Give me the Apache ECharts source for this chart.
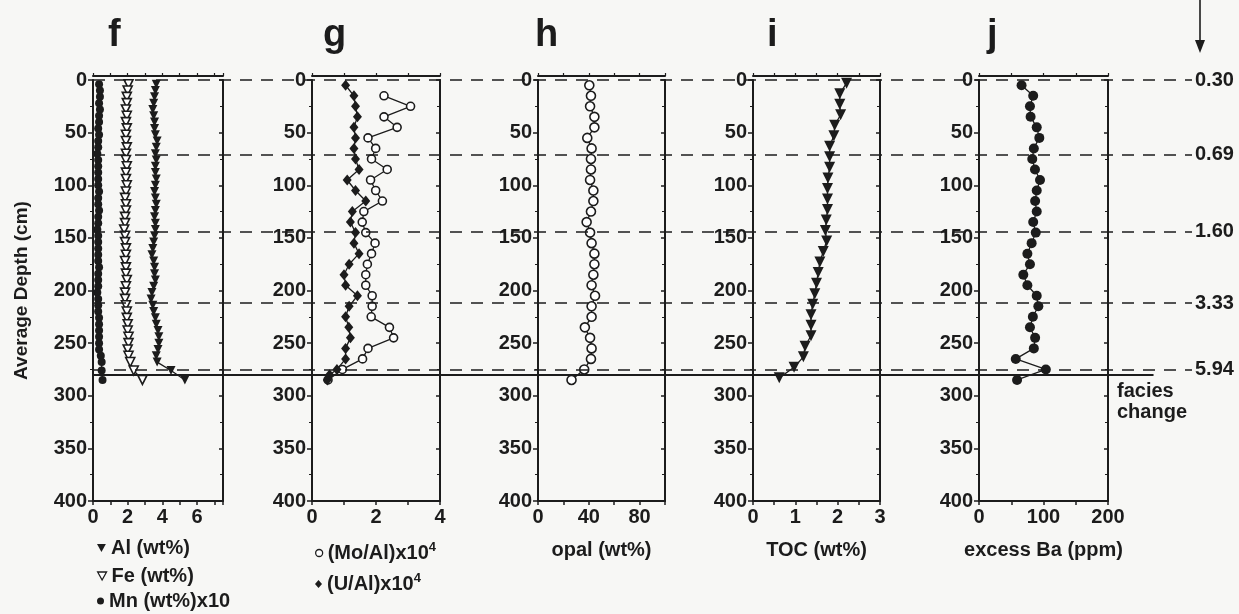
<!DOCTYPE html>
<html>
<head>
<meta charset="utf-8">
<script src="https://cdn.jsdelivr.net/npm/echarts@6/dist/echarts.min.js"></script>
<style>
  html, body { margin: 0; padding: 0; background: #f7f7f5; }
  #chart { width: 1239px; height: 614px; }
</style>
</head>
<body>
<div id="chart"></div>
<script>
// panel f: Al, Fe, Mn
const depthF = [4, 10, 16, 22, 28, 34, 40, 46, 52, 58, 64, 70, 76, 82, 88, 94, 100, 106, 112, 118, 124, 130,
  136, 142, 148, 154, 160, 166, 172, 178, 184, 190, 196, 202, 208, 214, 220, 226, 232, 238, 244, 250, 256, 262, 268, 276, 285];
const alF = [3.65, 3.6, 3.55, 3.5, 3.45, 3.5, 3.55, 3.55, 3.6, 3.7, 3.65, 3.6, 3.65, 3.6, 3.6, 3.65, 3.6, 3.55, 3.6, 3.65, 3.6, 3.55,
  3.6, 3.6, 3.55, 3.5, 3.45, 3.4, 3.5, 3.55, 3.55, 3.6, 3.5, 3.4, 3.35, 3.45, 3.5, 3.6, 3.65, 3.75, 3.8, 3.8, 3.75, 3.65, 3.7, 4.5, 5.3];
const feF = [2.05, 2.0, 1.95, 1.95, 1.9, 1.95, 1.9, 1.95, 1.9, 1.9, 1.95, 1.9, 1.9, 1.95, 1.9, 1.9, 1.95, 1.9, 1.85, 1.9, 1.9, 1.85,
  1.85, 1.8, 1.85, 1.85, 1.9, 1.9, 1.85, 1.9, 1.9, 1.95, 1.9, 1.85, 1.85, 1.9, 1.95, 1.95, 2.0, 2.0, 2.05, 2.05, 2.0, 2.05, 2.15, 2.35, 2.85];
const mnF = [0.35, 0.4, 0.4, 0.35, 0.4, 0.35, 0.35, 0.3, 0.35, 0.3, 0.3, 0.25, 0.3, 0.3, 0.3, 0.3, 0.3, 0.35, 0.3, 0.3, 0.35, 0.3,
  0.3, 0.25, 0.3, 0.3, 0.3, 0.3, 0.3, 0.35, 0.3, 0.3, 0.3, 0.25, 0.3, 0.3, 0.3, 0.35, 0.35, 0.35, 0.35, 0.35, 0.35, 0.45, 0.5, 0.5, 0.55];

// panel g: Mo/Al, U/Al (x10^4)
const depthMo = [15, 25, 35, 45, 55, 65, 75, 85, 95, 105, 115, 125, 135, 145, 155, 165, 175, 185, 195, 205, 215, 225, 235, 245, 255, 265, 275, 285];
const moAl = [2.25, 3.08, 2.25, 2.66, 1.75, 1.99, 1.86, 2.35, 1.83, 1.99, 2.2, 1.62, 1.57, 1.68, 1.97, 1.86, 1.73, 1.68, 1.68, 1.88,
  1.88, 1.85, 2.42, 2.55, 1.75, 1.58, 0.95, 0.5];
const depthU = [5, 15, 25, 35, 45, 55, 65, 75, 85, 95, 105, 115, 125, 135, 145, 155, 165, 175, 185, 195, 205, 215, 225, 235, 245, 255, 265, 275, 280, 285];
const uAl = [1.05, 1.31, 1.36, 1.42, 1.31, 1.36, 1.31, 1.36, 1.47, 1.1, 1.36, 1.68, 1.26, 1.2, 1.36, 1.31, 1.47, 1.16, 1.0, 1.05,
  1.42, 1.16, 1.05, 1.15, 1.2, 1.05, 1.05, 0.78, 0.55, 0.48];

// panel h: opal
const depthOpal = [5, 15, 25, 35, 45, 55, 65, 75, 85, 95, 105, 115, 125, 135, 145, 155, 165, 175, 185, 195, 205, 215, 225, 235, 245, 255, 265, 275, 285];
const opal = [40.4, 41.7, 41, 44.4, 44.4, 38.8, 42.2, 41.7, 41.7, 41, 43.6, 43.6, 41.7, 38.3, 41, 42.2, 44.4, 44.4, 43.6, 42.2,
  44.9, 42.2, 42.2, 36.9, 41, 42.2, 41.7, 36.4, 26.4];

// panel i: TOC
const depthToc = [3, 13, 23, 33, 43, 53, 63, 73, 83, 93, 103, 113, 123, 133, 143, 153, 163, 173, 183, 193, 203, 213, 223, 233, 243, 253, 263, 273, 283];
const toc = [2.21, 2.05, 2.05, 2.07, 1.93, 1.91, 1.81, 1.81, 1.81, 1.77, 1.76, 1.76, 1.76, 1.73, 1.71, 1.74, 1.66, 1.58, 1.54, 1.5,
  1.46, 1.41, 1.37, 1.37, 1.37, 1.23, 1.19, 0.97, 0.62];

// panel j: excess Ba
const depthBa = [5, 15, 25, 35, 45, 55, 65, 75, 85, 95, 105, 115, 125, 135, 145, 155, 165, 175, 185, 195, 205, 215, 225, 235, 245, 255, 265, 275, 285];
const exBa = [66, 84, 79, 80, 89.5, 93.5, 85, 82.6, 86.8, 94.6, 89.5, 87, 89.5, 84, 88, 81.6, 75, 79, 68.7, 75,
  89.5, 92, 83.5, 79, 87, 85, 57, 103.6, 59];

// horizontal reference lines (depth, cm) and their labels
const markDepths = [0, 71, 144, 212, 275];
const markLabels = ['0.30', '0.69', '1.60', '3.33', '5.94'];
const faciesDepth = 280;
const depthTicks = [0, 400, 50];

const ink = '#1c1c1c';
const font = "'Liberation Sans', Arial, Helvetica, sans-serif";

const panels = [
  { left: 93, width: 130, max: 7.5, step: 1, labelStep: 2, title: 'f', titleLeft: 103 },
  { left: 312, width: 128, max: 4, step: 1, labelStep: 2, title: 'g', titleLeft: 318 },
  { left: 538, width: 127, max: 100, step: 20, labelStep: 40, title: 'h', titleLeft: 530, name: 'opal (wt%)' },
  { left: 753, width: 127, max: 3, step: 0.5, labelStep: 1, title: 'i', titleLeft: 762, name: 'TOC (wt%)' },
  { left: 979, width: 129, max: 200, step: 50, labelStep: 100, title: 'j', titleLeft: 982, name: 'excess Ba (ppm)' }
];

const pairs = (xs, ds) => xs.map((v, i) => [v, ds[i]]);
const downTri = 'path://M0,0L10,0L5,9Z';

let grid = [], xAxis = [], yAxis = [], title = [];
panels.forEach((p, i) => {
  grid.push({ left: p.left, top: 80, width: p.width, height: 421 });
  title.push({ text: p.title, left: p.titleLeft, top: 12,
    textStyle: { fontSize: 38, fontWeight: 'bold', color: ink, fontFamily: font } });
  const xBase = {
    gridIndex: i, type: 'value', min: 0, max: p.max, interval: p.step,
    splitLine: { show: false },
    axisLine: { show: true, onZero: false, lineStyle: { color: ink, width: 2 } },
    axisTick: { show: true, length: 4, lineStyle: { color: ink, width: 1.5 } }
  };
  xAxis.push(Object.assign({}, xBase, {
    position: 'bottom',
    axisLabel: {
      margin: 6, fontSize: 20, fontWeight: 'bold', color: ink, fontFamily: font,
      formatter: v => Math.abs(v / p.labelStep - Math.round(v / p.labelStep)) < 1e-6 ? String(v) : ''
    },
    name: p.name || '', nameLocation: 'middle', nameGap: 49,
    nameTextStyle: { fontSize: 20, fontWeight: 'bold', color: ink, fontFamily: font, verticalAlign: 'middle' }
  }));
  xAxis.push(Object.assign({}, xBase, {
    position: 'top', offset: 4, axisLabel: { show: false },
    axisTick: { show: true, length: 3, lineStyle: { color: ink, width: 1.2 } }
  }));
  yAxis.push({
    gridIndex: i, type: 'value', inverse: true, min: depthTicks[0], max: depthTicks[1], interval: depthTicks[2],
    position: 'left',
    splitLine: { show: false },
    axisLine: { show: true, onZero: false, lineStyle: { color: ink, width: 2 } },
    axisTick: { show: true, length: 5, lineStyle: { color: ink, width: 1.5 } },
    minorTick: { show: true, splitNumber: 2, length: 3, lineStyle: { color: ink, width: 1 } },
    axisLabel: { margin: 6, fontSize: 20, fontWeight: 'bold', color: ink, fontFamily: font },
    name: i === 0 ? 'Average Depth (cm)' : '', nameLocation: 'middle', nameGap: 71, nameRotate: 90,
    nameTextStyle: { fontSize: 19, fontWeight: 'bold', color: ink, fontFamily: font, verticalAlign: 'middle' }
  });
  yAxis.push({
    gridIndex: i, type: 'value', inverse: true, min: depthTicks[0], max: depthTicks[1], interval: depthTicks[2],
    position: 'right',
    splitLine: { show: false },
    axisLine: { show: true, onZero: false, lineStyle: { color: ink, width: 2 } },
    axisTick: { show: true, inside: true, length: 4, lineStyle: { color: ink, width: 1.5 } },
    minorTick: { show: true, splitNumber: 2, length: 3, lineStyle: { color: ink, width: 1 } },
    axisLabel: { show: false }
  });
});

// overlay grid for the dashed depth lines spanning all panels
grid.push({ left: 93, width: 1099, top: 80, height: 421 });
xAxis.push({ gridIndex: 5, type: 'value', min: 0, max: 1, show: false });
yAxis.push({ gridIndex: 5, type: 'value', inverse: true, min: 0, max: 400, show: false });

function profile(name, xi, xs, ds, symbol, size, filled, rotate) {
  return {
    type: 'line', name: name, xAxisIndex: 2 * xi, yAxisIndex: 2 * xi,
    data: pairs(xs, ds), symbol: symbol, symbolSize: size, symbolRotate: rotate || 0,
    showSymbol: true, showAllSymbol: true, z: 4,
    lineStyle: { color: ink, width: 1.3 },
    itemStyle: filled ? { color: ink } : { color: '#fff', borderColor: ink, borderWidth: 1.6 }
  };
}

const series = [
  {
    type: 'line', xAxisIndex: 10, yAxisIndex: 10, data: [], z: 1, silent: true,
    markLine: {
      silent: true, symbol: 'none', animation: false,
      lineStyle: { type: [12, 9], color: ink, width: 1.6 },
      label: {
        show: true, position: 'end', distance: 3, padding: [0, 0, 14, 0],
        fontSize: 20, fontWeight: 'bold', color: ink, fontFamily: font
      },
      data: markDepths.map((d, k) => ({ yAxis: d, label: { formatter: markLabels[k] } }))
    }
  },
  {
    type: 'line', xAxisIndex: 10, yAxisIndex: 10, data: [], z: 1, silent: true,
    markLine: {
      silent: true, symbol: 'none', animation: false,
      lineStyle: { type: 'solid', color: ink, width: 1.8 },
      label: { show: false },
      data: [[{ coord: [0, faciesDepth] }, { coord: [0.965, faciesDepth] }]]
    }
  },
  profile('Mn (wt%)x10', 0, mnF, depthF, 'circle', 8, true),
  profile('Fe (wt%)', 0, feF, depthF, 'triangle', 9, false, 180),
  profile('Al (wt%)', 0, alF, depthF, 'triangle', 9, true, 180),
  profile('Mo/Al', 1, moAl, depthMo, 'circle', 8, false),
  profile('U/Al', 1, uAl, depthU, 'diamond', [9, 11], true),
  profile('opal', 2, opal, depthOpal, 'circle', 9, false),
  profile('TOC', 3, toc, depthToc, 'triangle', 11, true, 180),
  profile('excess Ba', 4, exBa, depthBa, 'circle', 10, true)
];

const legendText = { fontSize: 20, fontWeight: 'bold', color: ink, fontFamily: font };
const openStyle = { color: '#fff', borderColor: ink, borderWidth: 1.3 };
const supRich = {
  b: Object.assign({}, legendText, { lineHeight: 24 }),
  s: Object.assign({}, legendText, { fontSize: 13, verticalAlign: 'top', lineHeight: 24 })
};
// one legend per row so each row sits where the reference puts it
function legendRow(left, top, item, w, h, rich) {
  const lg = {
    left: left, top: top, itemWidth: w, itemHeight: h, selectedMode: false,
    textStyle: rich ? Object.assign({}, legendText, { rich: supRich }) : legendText,
    data: [item]
  };
  if (rich) lg.formatter = n => '{b|(' + n + ')x10}{s|4}';
  return lg;
}
const legend = [
  legendRow(92, 533, { name: 'Al (wt%)', icon: downTri, itemStyle: { color: ink } }, 9, 8),
  legendRow(92, 561, { name: 'Fe (wt%)', icon: downTri, itemStyle: openStyle }, 9, 8),
  legendRow(92, 586, { name: 'Mn (wt%)x10', icon: 'circle', itemStyle: { color: ink } }, 7, 7),
  legendRow(310, 536, { name: 'Mo/Al', icon: 'circle', itemStyle: openStyle }, 7, 7, true),
  legendRow(310, 567, { name: 'U/Al', icon: 'diamond', itemStyle: { color: ink } }, 7, 8, true)
];

const chart = echarts.init(document.getElementById('chart'));
chart.setOption({
  backgroundColor: '#f7f7f5',
  animation: false,
  title: title,
  grid: grid,
  xAxis: xAxis,
  yAxis: yAxis,
  legend: legend,
  series: series,
  graphic: [
    {
      type: 'text', left: 1117, top: 381,
      style: { text: 'facies\nchange', fill: ink, font: "bold 20px 'Liberation Sans', Arial, sans-serif", lineHeight: 21 }
    },
    { type: 'line', shape: { x1: 1200, y1: 0, x2: 1200, y2: 44 }, style: { stroke: ink, lineWidth: 1.6 } },
    { type: 'polygon', shape: { points: [[1195, 40], [1205, 40], [1200, 53]] }, style: { fill: ink } }
  ]
});
</script>
</body>
</html>
